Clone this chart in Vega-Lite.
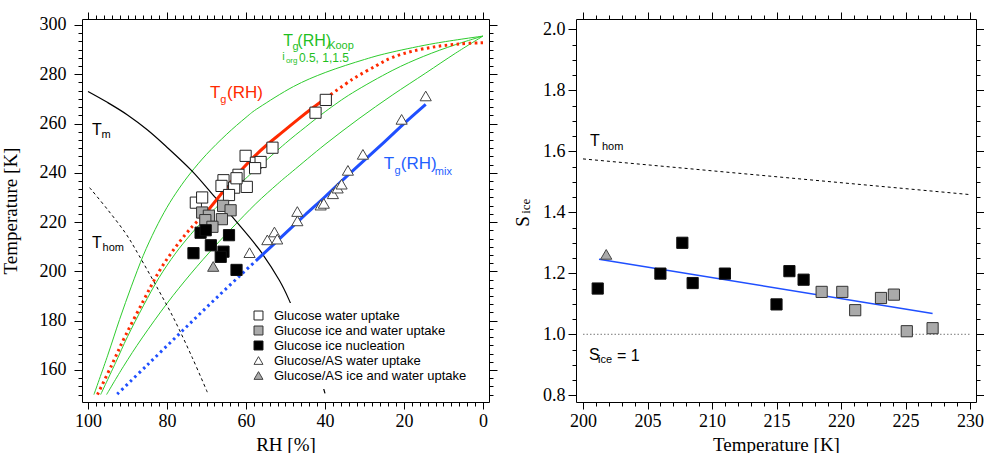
{
  "$schema": "https://vega.github.io/schema/vega-lite/v6.json",
  "background": "white",
  "padding": {"left": 1, "top": 11, "right": 0, "bottom": 0},
  "spacing": 15,
  "config": {
    "view": {"stroke": null},
    "style": {"guide-label": {"font": "Liberation Serif"}, "guide-title": {"font": "Liberation Serif"}},
    "axis": {"grid": false, "labelFont": "Liberation Serif", "labelFontSize": 18, "labelColor": "black", "titleFont": "Liberation Serif", "titleFontSize": 19, "titleFontWeight": "normal", "titleColor": "black", "domainColor": "black", "tickColor": "black", "labelFlush": false, "labelOverlap": false, "labelBound": false},
    "text": {"font": "Liberation Sans"}
  },
  "datasets": {
    "green": [
      {"c": "g1", "rh": 98.5, "t": 150}, {"c": "g1", "rh": 95, "t": 166}, {"c": "g1", "rh": 92, "t": 180.5}, {"c": "g1", "rh": 89, "t": 194}, {"c": "g1", "rh": 86, "t": 206.5}, {"c": "g1", "rh": 83, "t": 217}, {"c": "g1", "rh": 80, "t": 226}, {"c": "g1", "rh": 77, "t": 233.5}, {"c": "g1", "rh": 74, "t": 240}, {"c": "g1", "rh": 70, "t": 247.5}, {"c": "g1", "rh": 65, "t": 255.5}, {"c": "g1", "rh": 60, "t": 262.5}, {"c": "g1", "rh": 56.7, "t": 266.5}, {"c": "g1", "rh": 48, "t": 275}, {"c": "g1", "rh": 39.8, "t": 280.8}, {"c": "g1", "rh": 30, "t": 286}, {"c": "g1", "rh": 23, "t": 289}, {"c": "g1", "rh": 12, "t": 292.6}, {"c": "g1", "rh": 0, "t": 295.5},
      {"c": "g2", "rh": 96.8, "t": 150}, {"c": "g2", "rh": 93, "t": 163}, {"c": "g2", "rh": 90, "t": 173.5}, {"c": "g2", "rh": 86, "t": 186}, {"c": "g2", "rh": 82, "t": 197.5}, {"c": "g2", "rh": 78, "t": 207}, {"c": "g2", "rh": 74, "t": 215}, {"c": "g2", "rh": 70, "t": 222}, {"c": "g2", "rh": 65, "t": 230}, {"c": "g2", "rh": 60, "t": 237.8}, {"c": "g2", "rh": 56.7, "t": 242.5}, {"c": "g2", "rh": 50, "t": 252}, {"c": "g2", "rh": 45, "t": 258.5}, {"c": "g2", "rh": 39.8, "t": 265}, {"c": "g2", "rh": 33, "t": 272.5}, {"c": "g2", "rh": 23, "t": 281.5}, {"c": "g2", "rh": 15, "t": 287.3}, {"c": "g2", "rh": 7, "t": 292}, {"c": "g2", "rh": 0, "t": 295.5},
      {"c": "g3", "rh": 95.3, "t": 150}, {"c": "g3", "rh": 91, "t": 161.5}, {"c": "g3", "rh": 86.3, "t": 173}, {"c": "g3", "rh": 80, "t": 187}, {"c": "g3", "rh": 74, "t": 199}, {"c": "g3", "rh": 68, "t": 210}, {"c": "g3", "rh": 63.3, "t": 218}, {"c": "g3", "rh": 57.5, "t": 227.5}, {"c": "g3", "rh": 52, "t": 235.5}, {"c": "g3", "rh": 48.3, "t": 240.5}, {"c": "g3", "rh": 40, "t": 251.5}, {"c": "g3", "rh": 31.4, "t": 262}, {"c": "g3", "rh": 23, "t": 271.5}, {"c": "g3", "rh": 14.5, "t": 280.5}, {"c": "g3", "rh": 7, "t": 288.5}, {"c": "g3", "rh": 0, "t": 295.5}
    ],
    "tm": [
      {"rh": 100, "t": 273}, {"rh": 95, "t": 268.5}, {"rh": 90, "t": 263.5}, {"rh": 85, "t": 257.5}, {"rh": 80.4, "t": 251}, {"rh": 73.7, "t": 240.8}, {"rh": 67.8, "t": 230}, {"rh": 62.6, "t": 220.5}, {"rh": 56.7, "t": 209}, {"rh": 51.6, "t": 196.5}, {"rh": 48.7, "t": 187}, {"rh": 45, "t": 173}, {"rh": 42, "t": 161}, {"rh": 40, "t": 150.5}
    ],
    "thom": [
      {"rh": 99.6, "t": 234}, {"rh": 95, "t": 225}, {"rh": 90.5, "t": 215.5}, {"rh": 87.1, "t": 206.5}, {"rh": 82, "t": 192}, {"rh": 78, "t": 180}, {"rh": 73.6, "t": 165}, {"rh": 69.8, "t": 151}
    ],
    "tg_solid": [
      {"rh": 70, "t": 224}, {"rh": 67, "t": 230}, {"rh": 64, "t": 236}, {"rh": 61, "t": 241.5}, {"rh": 58, "t": 246.5}, {"rh": 54.6, "t": 251.5}, {"rh": 50.8, "t": 256.5}, {"rh": 46.6, "t": 262}, {"rh": 43, "t": 266.5}, {"rh": 39.8, "t": 270.3}
    ],
    "tg_dot": [
      {"seg": "low", "rh": 97.6, "t": 150}, {"seg": "low", "rh": 94, "t": 162}, {"seg": "low", "rh": 90.5, "t": 174}, {"seg": "low", "rh": 86, "t": 188}, {"seg": "low", "rh": 82, "t": 200}, {"seg": "low", "rh": 78, "t": 209.5}, {"seg": "low", "rh": 74, "t": 217.5}, {"seg": "low", "rh": 70, "t": 224},
      {"seg": "high", "rh": 39.8, "t": 270.3}, {"seg": "high", "rh": 33, "t": 278}, {"seg": "high", "rh": 27, "t": 283.5}, {"seg": "high", "rh": 23, "t": 286.8}, {"seg": "high", "rh": 18, "t": 289.3}, {"seg": "high", "rh": 12, "t": 291.2}, {"seg": "high", "rh": 6, "t": 292.3}, {"seg": "high", "rh": 0, "t": 292.8}
    ],
    "mix_solid": [
      {"rh": 57.5, "t": 204.3}, {"rh": 50, "t": 215.5}, {"rh": 45, "t": 223}, {"rh": 40, "t": 230.3}, {"rh": 33.9, "t": 239.5}, {"rh": 25, "t": 252.5}, {"rh": 20, "t": 260}, {"rh": 14.5, "t": 267.8}
    ],
    "mix_dot": [
      {"rh": 92.6, "t": 150.2}, {"rh": 85, "t": 162}, {"rh": 76.1, "t": 175.9}, {"rh": 67, "t": 190}, {"rh": 57.5, "t": 204.3}
    ],
    "pts_left": [
      {"type": "Glucose/AS water uptake", "rh": 59.1, "t": 207.6}, {"type": "Glucose/AS water uptake", "rh": 54.6, "t": 212.8}, {"type": "Glucose/AS water uptake", "rh": 52.8, "t": 216}, {"type": "Glucose/AS water uptake", "rh": 52.1, "t": 213.1}, {"type": "Glucose/AS water uptake", "rh": 47, "t": 224.3}, {"type": "Glucose/AS water uptake", "rh": 47, "t": 220.5}, {"type": "Glucose/AS water uptake", "rh": 41.1, "t": 226.9}, {"type": "Glucose/AS water uptake", "rh": 40.3, "t": 227.6}, {"type": "Glucose/AS water uptake", "rh": 38, "t": 231.5}, {"type": "Glucose/AS water uptake", "rh": 36.8, "t": 233.8}, {"type": "Glucose/AS water uptake", "rh": 35.8, "t": 235.4}, {"type": "Glucose/AS water uptake", "rh": 34.2, "t": 241}, {"type": "Glucose/AS water uptake", "rh": 30.4, "t": 247.5}, {"type": "Glucose/AS water uptake", "rh": 20.6, "t": 261.7}, {"type": "Glucose/AS water uptake", "rh": 14.5, "t": 271.2},
      {"type": "Glucose/AS ice and water uptake", "rh": 68.3, "t": 202},
      {"type": "Glucose water uptake", "rh": 72.7, "t": 227.9}, {"type": "Glucose water uptake", "rh": 71.1, "t": 230}, {"type": "Glucose water uptake", "rh": 65.7, "t": 237}, {"type": "Glucose water uptake", "rh": 66.2, "t": 234.7}, {"type": "Glucose water uptake", "rh": 63, "t": 234}, {"type": "Glucose water uptake", "rh": 64.3, "t": 231}, {"type": "Glucose water uptake", "rh": 59.8, "t": 234.3}, {"type": "Glucose water uptake", "rh": 61.9, "t": 239.2}, {"type": "Glucose water uptake", "rh": 62.4, "t": 237.8}, {"type": "Glucose water uptake", "rh": 60.1, "t": 246.9}, {"type": "Glucose water uptake", "rh": 57.5, "t": 244.1}, {"type": "Glucose water uptake", "rh": 56.3, "t": 244.4}, {"type": "Glucose water uptake", "rh": 57.7, "t": 241.9}, {"type": "Glucose water uptake", "rh": 53.3, "t": 250.2}, {"type": "Glucose water uptake", "rh": 42.4, "t": 264.4}, {"type": "Glucose water uptake", "rh": 39.8, "t": 269.6},
      {"type": "Glucose ice and water uptake", "rh": 71.1, "t": 223.9}, {"type": "Glucose ice and water uptake", "rh": 65.8, "t": 226.6}, {"type": "Glucose ice and water uptake", "rh": 63.9, "t": 224.8}, {"type": "Glucose ice and water uptake", "rh": 69.4, "t": 222.6}, {"type": "Glucose ice and water uptake", "rh": 70.3, "t": 220.8}, {"type": "Glucose ice and water uptake", "rh": 66.1, "t": 221.2}, {"type": "Glucose ice and water uptake", "rh": 68.5, "t": 218.1},
      {"type": "Glucose ice nucleation", "rh": 71.5, "t": 215.7}, {"type": "Glucose ice nucleation", "rh": 70.2, "t": 216.7}, {"type": "Glucose ice nucleation", "rh": 64.3, "t": 214.7}, {"type": "Glucose ice nucleation", "rh": 68.9, "t": 210.6}, {"type": "Glucose ice nucleation", "rh": 73.3, "t": 207.4}, {"type": "Glucose ice nucleation", "rh": 65.7, "t": 208}, {"type": "Glucose ice nucleation", "rh": 66.4, "t": 205.9}, {"type": "Glucose ice nucleation", "rh": 62.4, "t": 200.6}
    ],
    "ann_left": [
      {"curve": "melt", "role": "main", "rh": 99.0, "t": 257.4, "text": "T"},
      {"curve": "melt", "role": "sub", "rh": 96.6, "t": 255.4, "text": "m"},
      {"curve": "melt", "role": "main", "rh": 99.0, "t": 211.4, "text": "T"},
      {"curve": "melt", "role": "sub", "rh": 96.3, "t": 209.3, "text": "hom"},
      {"curve": "Tg", "role": "main", "rh": 69.1, "t": 272.4, "text": "T"},
      {"curve": "Tg", "role": "sub", "rh": 66.5, "t": 269.6, "text": "g"},
      {"curve": "Tg", "role": "main", "rh": 64.8, "t": 272.4, "text": "(RH)"},
      {"curve": "Koop", "role": "main", "rh": 50.6, "t": 293.5, "text": "T"},
      {"curve": "Koop", "role": "sub", "rh": 48.2, "t": 291.1, "text": "g"},
      {"curve": "Koop", "role": "main", "rh": 47.0, "t": 293.5, "text": "(RH)"},
      {"curve": "Koop", "role": "sub", "rh": 39.2, "t": 291.5, "text": "Koop"},
      {"curve": "Koop", "role": "sub", "rh": 50.8, "t": 287.0, "text": "i"},
      {"curve": "Koop", "role": "tiny", "rh": 49.9, "t": 285.4, "text": "org"},
      {"curve": "Koop", "role": "note", "rh": 46.6, "t": 286.6, "text": "0.5, 1,1.5"},
      {"curve": "mix", "role": "main", "rh": 25.1, "t": 243.6, "text": "T"},
      {"curve": "mix", "role": "sub", "rh": 22.4, "t": 240.8, "text": "g"},
      {"curve": "mix", "role": "main", "rh": 20.8, "t": 243.6, "text": "(RH)"},
      {"curve": "mix", "role": "sub", "rh": 12.2, "t": 240.4, "text": "mix"}
    ],
    "thom_r": [{"temp": 200, "s": 1.575}, {"temp": 230, "s": 1.458}],
    "sat": [{"temp": 200, "s": 1.0}, {"temp": 230, "s": 1.0}],
    "fit": [{"temp": 201.24, "s": 1.246}, {"temp": 227.1, "s": 1.068}],
    "pts_right": [
      {"type": "Glucose/AS ice and water uptake", "temp": 201.8, "s": 1.262},
      {"type": "Glucose ice and water uptake", "temp": 218.5, "s": 1.139}, {"type": "Glucose ice and water uptake", "temp": 220.1, "s": 1.139}, {"type": "Glucose ice and water uptake", "temp": 221.1, "s": 1.079}, {"type": "Glucose ice and water uptake", "temp": 223.1, "s": 1.119}, {"type": "Glucose ice and water uptake", "temp": 224.1, "s": 1.13}, {"type": "Glucose ice and water uptake", "temp": 225.1, "s": 1.01}, {"type": "Glucose ice and water uptake", "temp": 227.1, "s": 1.02},
      {"type": "Glucose ice nucleation", "temp": 201.14, "s": 1.15}, {"type": "Glucose ice nucleation", "temp": 206.0, "s": 1.199}, {"type": "Glucose ice nucleation", "temp": 207.7, "s": 1.3}, {"type": "Glucose ice nucleation", "temp": 208.5, "s": 1.168}, {"type": "Glucose ice nucleation", "temp": 211.0, "s": 1.199}, {"type": "Glucose ice nucleation", "temp": 215.0, "s": 1.098}, {"type": "Glucose ice nucleation", "temp": 216.0, "s": 1.207}, {"type": "Glucose ice nucleation", "temp": 217.1, "s": 1.179}
    ],
    "ann_right": [
      {"role": "main", "temp": 200.54, "s": 1.634, "text": "T"},
      {"role": "sub", "temp": 201.47, "s": 1.614, "text": "hom"},
      {"role": "main", "temp": 200.47, "s": 0.932, "text": "S"},
      {"role": "sub", "temp": 201.16, "s": 0.916, "text": "ice"},
      {"role": "main", "temp": 202.64, "s": 0.929, "text": "= 1"},
      {"role": "axis", "temp": 195.6, "s": 1.42, "text": "ice"}
    ]
  },
  "resolve": {"scale": {"fill": "independent", "shape": "independent", "stroke": "independent", "color": "independent"}, "legend": {"fill": "independent", "shape": "independent", "stroke": "independent"}},
  "hconcat": [
    {
      "width": 407,
      "height": 383,
      "resolve": {"axis": {"x": "independent", "y": "independent"}},
      "layer": [
        {
          "data": {"name": "green"},
          "mark": {"type": "line", "color": "#2ecc2e", "strokeWidth": 1, "interpolate": "cardinal"},
          "encoding": {
            "x": {"field": "rh", "type": "quantitative", "scale": {"domain": [-1.52, 101.52], "reverse": true, "nice": false, "zero": false},
                  "axis": {"orient": "bottom", "values": [0, 20, 40, 60, 80, 100], "tickSize": 7, "labelPadding": 3, "labelFont": "Liberation Serif", "labelFontSize": 18, "title": "RH [%]", "titlePadding": 5, "domain": true}},
            "y": {"field": "t", "type": "quantitative", "scale": {"domain": [147, 302.43], "nice": false, "zero": false},
                  "axis": {"orient": "left", "values": [160, 180, 200, 220, 240, 260, 280, 300], "tickSize": 8, "labelPadding": 8, "labelFont": "Liberation Serif", "labelFontSize": 18, "title": "Temperature [K]", "titlePadding": 19, "domain": true}},
            "detail": {"field": "c"}
          }
        },
        {
          "data": {"name": "tm"},
          "mark": {"type": "line", "color": "black", "strokeWidth": 1.2, "interpolate": "cardinal"},
          "encoding": {
            "x": {"field": "rh", "type": "quantitative", "scale": {"domain": [-1.52, 101.52], "reverse": true, "nice": false, "zero": false},
                  "axis": {"orient": "bottom", "values": [0,2,4,6,8,10,12,14,16,18,20,22,24,26,28,30,32,34,36,38,40,42,44,46,48,50,52,54,56,58,60,62,64,66,68,70,72,74,76,78,80,82,84,86,88,90,92,94,96,98,100], "tickSize": 4, "labels": false, "domain": false, "title": null}},
            "y": {"field": "t", "type": "quantitative", "scale": {"domain": [147, 302.43], "nice": false, "zero": false},
                  "axis": {"orient": "left", "values": [150,153.333,156.667,160,163.333,166.667,170,173.333,176.667,180,183.333,186.667,190,193.333,196.667,200,203.333,206.667,210,213.333,216.667,220,223.333,226.667,230,233.333,236.667,240,243.333,246.667,250,253.333,256.667,260,263.333,266.667,270,273.333,276.667,280,283.333,286.667,290,293.333,296.667,300], "tickSize": 4, "labels": false, "domain": false, "title": null}}
          }
        },
        {
          "data": {"name": "thom"},
          "mark": {"type": "line", "color": "black", "strokeWidth": 1, "strokeDash": [3, 3], "interpolate": "cardinal"},
          "encoding": {
            "x": {"field": "rh", "type": "quantitative", "scale": {"domain": [-1.52, 101.52], "reverse": true, "nice": false, "zero": false},
                  "axis": {"orient": "top", "values": [0, 20, 40, 60, 80, 100], "tickSize": 7, "labels": false, "title": null, "domain": true}},
            "y": {"field": "t", "type": "quantitative", "scale": {"domain": [147, 302.43], "nice": false, "zero": false},
                  "axis": {"orient": "right", "values": [160, 180, 200, 220, 240, 260, 280, 300], "tickSize": 8, "labels": false, "title": null, "domain": true}}
          }
        },
        {
          "data": {"name": "tg_solid"},
          "mark": {"type": "line", "color": "#ff2a00", "strokeWidth": 3, "interpolate": "cardinal"},
          "encoding": {
            "x": {"field": "rh", "type": "quantitative", "scale": {"domain": [-1.52, 101.52], "reverse": true, "nice": false, "zero": false},
                  "axis": {"orient": "top", "values": [0,2,4,6,8,10,12,14,16,18,20,22,24,26,28,30,32,34,36,38,40,42,44,46,48,50,52,54,56,58,60,62,64,66,68,70,72,74,76,78,80,82,84,86,88,90,92,94,96,98,100], "tickSize": 4, "labels": false, "domain": false, "title": null}},
            "y": {"field": "t", "type": "quantitative", "scale": {"domain": [147, 302.43], "nice": false, "zero": false},
                  "axis": {"orient": "right", "values": [150,153.333,156.667,160,163.333,166.667,170,173.333,176.667,180,183.333,186.667,190,193.333,196.667,200,203.333,206.667,210,213.333,216.667,220,223.333,226.667,230,233.333,236.667,240,243.333,246.667,250,253.333,256.667,260,263.333,266.667,270,273.333,276.667,280,283.333,286.667,290,293.333,296.667,300], "tickSize": 4, "labels": false, "domain": false, "title": null}}
          }
        },
        {
          "data": {"name": "tg_dot"},
          "mark": {"type": "line", "color": "#ff2a00", "strokeWidth": 3, "strokeDash": [2.5, 3.5], "interpolate": "cardinal"},
          "encoding": {
            "x": {"field": "rh", "type": "quantitative", "scale": {"domain": [-1.52, 101.52], "reverse": true, "nice": false, "zero": false}, "axis": null},
            "y": {"field": "t", "type": "quantitative", "scale": {"domain": [147, 302.43], "nice": false, "zero": false}, "axis": null},
            "detail": {"field": "seg"}
          }
        },
        {
          "data": {"name": "mix_dot"},
          "mark": {"type": "line", "color": "#1f4fff", "strokeWidth": 3, "strokeDash": [2.5, 3.5], "interpolate": "cardinal"},
          "encoding": {
            "x": {"field": "rh", "type": "quantitative", "scale": {"domain": [-1.52, 101.52], "reverse": true, "nice": false, "zero": false}, "axis": null},
            "y": {"field": "t", "type": "quantitative", "scale": {"domain": [147, 302.43], "nice": false, "zero": false}, "axis": null}
          }
        },
        {
          "data": {"name": "mix_solid"},
          "mark": {"type": "line", "color": "#1f4fff", "strokeWidth": 3, "interpolate": "cardinal"},
          "encoding": {
            "x": {"field": "rh", "type": "quantitative", "scale": {"domain": [-1.52, 101.52], "reverse": true, "nice": false, "zero": false}, "axis": null},
            "y": {"field": "t", "type": "quantitative", "scale": {"domain": [147, 302.43], "nice": false, "zero": false}, "axis": null}
          }
        },
        {
          "data": {"name": "pts_left"},
          "mark": {"type": "point", "filled": true, "strokeWidth": 1, "size": 125, "opacity": 1},
          "encoding": {
            "x": {"field": "rh", "type": "quantitative", "scale": {"domain": [-1.52, 101.52], "reverse": true, "nice": false, "zero": false}, "axis": null},
            "y": {"field": "t", "type": "quantitative", "scale": {"domain": [147, 302.43], "nice": false, "zero": false}, "axis": null},
            "fill": {"field": "type", "type": "nominal",
                     "scale": {"domain": ["Glucose water uptake", "Glucose ice and water uptake", "Glucose ice nucleation", "Glucose/AS water uptake", "Glucose/AS ice and water uptake"], "range": ["white", "#aaaaaa", "black", "white", "#aaaaaa"]},
                     "legend": {"title": null, "orient": "none", "legendX": 164, "legendY": 284, "fillColor": "white", "padding": 6, "labelFont": "Liberation Sans", "labelFontSize": 13, "labelColor": "black", "labelLimit": 400, "symbolSize": 80, "symbolStrokeWidth": 1, "rowPadding": 1, "labelOffset": 9}},
            "shape": {"field": "type", "type": "nominal",
                      "scale": {"domain": ["Glucose water uptake", "Glucose ice and water uptake", "Glucose ice nucleation", "Glucose/AS water uptake", "Glucose/AS ice and water uptake"], "range": ["square", "square", "square", "triangle-up", "triangle-up"]},
                      "legend": {"title": null, "orient": "none", "legendX": 164, "legendY": 284, "fillColor": "white", "padding": 6, "labelFont": "Liberation Sans", "labelFontSize": 13, "labelColor": "black", "labelLimit": 400, "symbolSize": 80, "symbolStrokeWidth": 1, "rowPadding": 1, "labelOffset": 9}},
            "stroke": {"field": "type", "type": "nominal",
                       "scale": {"domain": ["Glucose water uptake", "Glucose ice and water uptake", "Glucose ice nucleation", "Glucose/AS water uptake", "Glucose/AS ice and water uptake"], "range": ["#222222", "#333333", "#111111", "#444444", "#444444"]},
                       "legend": {"title": null, "orient": "none", "legendX": 164, "legendY": 284, "fillColor": "white", "padding": 6, "labelFont": "Liberation Sans", "labelFontSize": 13, "labelColor": "black", "labelLimit": 400, "symbolSize": 80, "symbolStrokeWidth": 1, "rowPadding": 1, "labelOffset": 9}}
          }
        },
        {
          "data": {"name": "ann_left"},
          "transform": [{"filter": "datum.role === 'main' && (datum.curve === 'Tg' || datum.curve === 'mix')"}],
          "mark": {"type": "text", "align": "left", "baseline": "middle", "fontSize": 17},
          "encoding": {
            "x": {"field": "rh", "type": "quantitative", "scale": {"domain": [-1.52, 101.52], "reverse": true, "nice": false, "zero": false}, "axis": null},
            "y": {"field": "t", "type": "quantitative", "scale": {"domain": [147, 302.43], "nice": false, "zero": false}, "axis": null},
            "text": {"field": "text"},
            "color": {"field": "curve", "type": "nominal", "scale": {"domain": ["Tg", "Koop", "mix", "melt"], "range": ["#ff2a00", "#1fbf1f", "#1f5fff", "black"]}, "legend": null}
          }
        },
        {
          "data": {"name": "ann_left"},
          "transform": [{"filter": "datum.role === 'main' && (datum.curve === 'Koop' || datum.curve === 'melt')"}],
          "mark": {"type": "text", "align": "left", "baseline": "middle", "fontSize": 16},
          "encoding": {
            "x": {"field": "rh", "type": "quantitative", "scale": {"domain": [-1.52, 101.52], "reverse": true, "nice": false, "zero": false}, "axis": null},
            "y": {"field": "t", "type": "quantitative", "scale": {"domain": [147, 302.43], "nice": false, "zero": false}, "axis": null},
            "text": {"field": "text"},
            "color": {"field": "curve", "type": "nominal", "scale": {"domain": ["Tg", "Koop", "mix", "melt"], "range": ["#ff2a00", "#1fbf1f", "#1f5fff", "black"]}, "legend": null}
          }
        },
        {
          "data": {"name": "ann_left"},
          "transform": [{"filter": "datum.role === 'sub'"}],
          "mark": {"type": "text", "align": "left", "baseline": "middle", "fontSize": 11},
          "encoding": {
            "x": {"field": "rh", "type": "quantitative", "scale": {"domain": [-1.52, 101.52], "reverse": true, "nice": false, "zero": false}, "axis": null},
            "y": {"field": "t", "type": "quantitative", "scale": {"domain": [147, 302.43], "nice": false, "zero": false}, "axis": null},
            "text": {"field": "text"},
            "color": {"field": "curve", "type": "nominal", "scale": {"domain": ["Tg", "Koop", "mix", "melt"], "range": ["#ff2a00", "#1fbf1f", "#1f5fff", "black"]}, "legend": null}
          }
        },
        {
          "data": {"name": "ann_left"},
          "transform": [{"filter": "datum.role === 'note'"}],
          "mark": {"type": "text", "align": "left", "baseline": "middle", "fontSize": 12},
          "encoding": {
            "x": {"field": "rh", "type": "quantitative", "scale": {"domain": [-1.52, 101.52], "reverse": true, "nice": false, "zero": false}, "axis": null},
            "y": {"field": "t", "type": "quantitative", "scale": {"domain": [147, 302.43], "nice": false, "zero": false}, "axis": null},
            "text": {"field": "text"},
            "color": {"field": "curve", "type": "nominal", "scale": {"domain": ["Tg", "Koop", "mix", "melt"], "range": ["#ff2a00", "#1fbf1f", "#1f5fff", "black"]}, "legend": null}
          }
        },
        {
          "data": {"name": "ann_left"},
          "transform": [{"filter": "datum.role === 'tiny'"}],
          "mark": {"type": "text", "align": "left", "baseline": "middle", "fontSize": 8},
          "encoding": {
            "x": {"field": "rh", "type": "quantitative", "scale": {"domain": [-1.52, 101.52], "reverse": true, "nice": false, "zero": false}, "axis": null},
            "y": {"field": "t", "type": "quantitative", "scale": {"domain": [147, 302.43], "nice": false, "zero": false}, "axis": null},
            "text": {"field": "text"},
            "color": {"field": "curve", "type": "nominal", "scale": {"domain": ["Tg", "Koop", "mix", "melt"], "range": ["#ff2a00", "#1fbf1f", "#1f5fff", "black"]}, "legend": null}
          }
        }
      ]
    },
    {
      "width": 400,
      "height": 383,
      "resolve": {"axis": {"x": "independent", "y": "independent"}},
      "layer": [
        {
          "data": {"name": "thom_r"},
          "mark": {"type": "line", "color": "black", "strokeWidth": 1, "strokeDash": [3, 3]},
          "encoding": {
            "x": {"field": "temp", "type": "quantitative", "scale": {"domain": [199.457, 230.465], "nice": false, "zero": false},
                  "axis": {"orient": "bottom", "values": [200, 205, 210, 215, 220, 225, 230], "tickSize": 7, "labelPadding": 3, "labelFont": "Liberation Serif", "labelFontSize": 18, "title": "Temperature [K]", "titlePadding": 5, "domain": true}},
            "y": {"field": "s", "type": "quantitative", "scale": {"domain": [0.778, 2.0337], "nice": false, "zero": false},
                  "axis": {"orient": "left", "values": [0.8, 1.0, 1.2, 1.4, 1.6, 1.8, 2.0], "format": ".1f", "tickSize": 8, "labelPadding": 3, "labelFont": "Liberation Serif", "labelFontSize": 18, "title": "S", "titlePadding": 10, "titleY": 202, "domain": true}}
          }
        },
        {
          "data": {"name": "sat"},
          "mark": {"type": "line", "color": "#777", "strokeWidth": 1, "strokeDash": [1.5, 2]},
          "encoding": {
            "x": {"field": "temp", "type": "quantitative", "scale": {"domain": [199.457, 230.465], "nice": false, "zero": false},
                  "axis": {"orient": "bottom", "values": [200,201,202,203,204,205,206,207,208,209,210,211,212,213,214,215,216,217,218,219,220,221,222,223,224,225,226,227,228,229,230], "tickSize": 4, "labels": false, "domain": false, "title": null}},
            "y": {"field": "s", "type": "quantitative", "scale": {"domain": [0.778, 2.0337], "nice": false, "zero": false},
                  "axis": {"orient": "left", "values": [0.8,0.85,0.9,0.95,1.0,1.05,1.1,1.15,1.2,1.25,1.3,1.35,1.4,1.45,1.5,1.55,1.6,1.65,1.7,1.75,1.8,1.85,1.9,1.95,2.0], "tickSize": 4, "labels": false, "domain": false, "title": null}}
          }
        },
        {
          "data": {"name": "fit"},
          "mark": {"type": "line", "color": "#1f4fff", "strokeWidth": 1.5},
          "encoding": {
            "x": {"field": "temp", "type": "quantitative", "scale": {"domain": [199.457, 230.465], "nice": false, "zero": false},
                  "axis": {"orient": "top", "values": [200, 205, 210, 215, 220, 225, 230], "tickSize": 7, "labels": false, "title": null, "domain": true}},
            "y": {"field": "s", "type": "quantitative", "scale": {"domain": [0.778, 2.0337], "nice": false, "zero": false},
                  "axis": {"orient": "right", "values": [0.8, 1.0, 1.2, 1.4, 1.6, 1.8, 2.0], "tickSize": 8, "labels": false, "title": null, "domain": true}}
          }
        },
        {
          "data": {"name": "pts_right"},
          "mark": {"type": "point", "filled": true, "strokeWidth": 1, "size": 125, "opacity": 1},
          "encoding": {
            "x": {"field": "temp", "type": "quantitative", "scale": {"domain": [199.457, 230.465], "nice": false, "zero": false},
                  "axis": {"orient": "top", "values": [200,201,202,203,204,205,206,207,208,209,210,211,212,213,214,215,216,217,218,219,220,221,222,223,224,225,226,227,228,229,230], "tickSize": 4, "labels": false, "domain": false, "title": null}},
            "y": {"field": "s", "type": "quantitative", "scale": {"domain": [0.778, 2.0337], "nice": false, "zero": false},
                  "axis": {"orient": "right", "values": [0.8,0.85,0.9,0.95,1.0,1.05,1.1,1.15,1.2,1.25,1.3,1.35,1.4,1.45,1.5,1.55,1.6,1.65,1.7,1.75,1.8,1.85,1.9,1.95,2.0], "tickSize": 4, "labels": false, "domain": false, "title": null}},
            "fill": {"field": "type", "type": "nominal",
                     "scale": {"domain": ["Glucose water uptake", "Glucose ice and water uptake", "Glucose ice nucleation", "Glucose/AS water uptake", "Glucose/AS ice and water uptake"], "range": ["white", "#aaaaaa", "black", "white", "#aaaaaa"]}, "legend": null},
            "shape": {"field": "type", "type": "nominal",
                      "scale": {"domain": ["Glucose water uptake", "Glucose ice and water uptake", "Glucose ice nucleation", "Glucose/AS water uptake", "Glucose/AS ice and water uptake"], "range": ["square", "square", "square", "triangle-up", "triangle-up"]}, "legend": null},
            "stroke": {"field": "type", "type": "nominal",
                       "scale": {"domain": ["Glucose water uptake", "Glucose ice and water uptake", "Glucose ice nucleation", "Glucose/AS water uptake", "Glucose/AS ice and water uptake"], "range": ["#222222", "#333333", "#111111", "#444444", "#444444"]}, "legend": null}
          }
        },
        {
          "data": {"name": "ann_right"},
          "transform": [{"filter": "datum.role === 'main'"}],
          "mark": {"type": "text", "align": "left", "baseline": "middle", "fontSize": 16, "color": "black"},
          "encoding": {
            "x": {"field": "temp", "type": "quantitative", "scale": {"domain": [199.457, 230.465], "nice": false, "zero": false}, "axis": null},
            "y": {"field": "s", "type": "quantitative", "scale": {"domain": [0.778, 2.0337], "nice": false, "zero": false}, "axis": null},
            "text": {"field": "text"}
          }
        },
        {
          "data": {"name": "ann_right"},
          "transform": [{"filter": "datum.role === 'sub'"}],
          "mark": {"type": "text", "align": "left", "baseline": "middle", "fontSize": 11, "color": "black"},
          "encoding": {
            "x": {"field": "temp", "type": "quantitative", "scale": {"domain": [199.457, 230.465], "nice": false, "zero": false}, "axis": null},
            "y": {"field": "s", "type": "quantitative", "scale": {"domain": [0.778, 2.0337], "nice": false, "zero": false}, "axis": null},
            "text": {"field": "text"}
          }
        },
        {
          "data": {"name": "ann_right"},
          "transform": [{"filter": "datum.role === 'axis'"}],
          "mark": {"type": "text", "align": "center", "baseline": "middle", "fontSize": 13, "font": "Liberation Serif", "angle": 270, "color": "black"},
          "encoding": {
            "x": {"field": "temp", "type": "quantitative", "scale": {"domain": [199.457, 230.465], "nice": false, "zero": false}, "axis": null},
            "y": {"field": "s", "type": "quantitative", "scale": {"domain": [0.778, 2.0337], "nice": false, "zero": false}, "axis": null},
            "text": {"field": "text"}
          }
        }
      ]
    }
  ]
}
